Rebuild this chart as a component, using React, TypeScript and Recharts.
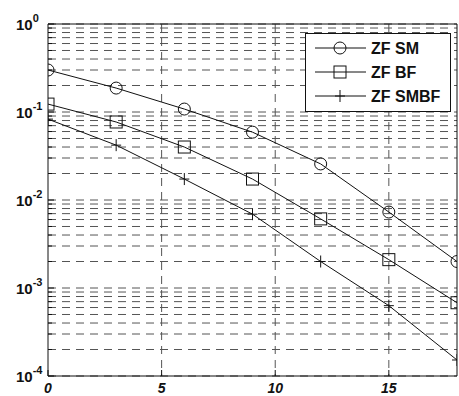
import React from "react";
import {
  CartesianGrid,
  Line,
  LineChart,
  ReferenceLine,
  XAxis,
  YAxis,
} from "recharts";

const snrDb = [0, 3, 6, 9, 12, 15, 18];
const zfSm = [0.3, 0.187, 0.108, 0.059, 0.0257, 0.0073, 0.002];
const zfBf = [0.123, 0.077, 0.04, 0.0173, 0.0061, 0.0021, 0.00068];
const zfSmbf = [0.083, 0.042, 0.0173, 0.0069, 0.002, 0.00063, 0.000152];

const xTicks = [0, 5, 10, 15];
const yDecades = [1e-4, 1e-3, 1e-2, 1e-1, 1];
const yExponents = ["-4", "-3", "-2", "-1", "0"];
const minorSteps = [1, 2, 3, 4, 5, 6, 7, 8, 9];

const seriesNames = ["ZF SM", "ZF BF", "ZF SMBF"];
const markerKinds = ["circle", "square", "plus"];

// grid lines at every 1..9 x decade
const yGrid = yDecades
  .slice(0, -1)
  .flatMap((d) => minorSteps.map((m) => +(d * m).toPrecision(3)))
  .concat([1]);

const data = snrDb.map((x, i) => ({
  x,
  sm: zfSm[i],
  bf: zfBf[i],
  smbf: zfSmbf[i],
}));

const FONT = "'Liberation Sans', Arial, sans-serif";
const INK = "#111";

function Marker({ kind, cx, cy }: { kind: string; cx: number; cy: number }) {
  if (kind === "circle")
    return <circle cx={cx} cy={cy} r={6} fill="none" stroke={INK} strokeWidth={1} />;
  if (kind === "square")
    return (
      <rect x={cx - 6} y={cy - 6} width={12} height={12} fill="none" stroke={INK} strokeWidth={1} />
    );
  return (
    <g stroke={INK} strokeWidth={1}>
      <line x1={cx - 5} x2={cx + 5} y1={cy} y2={cy} />
      <line x1={cx} x2={cx} y1={cy - 6} y2={cy + 6} />
    </g>
  );
}

const dotFor = (kind: string) => (props: any) => (
  <Marker key={`${kind}-${props.index}`} kind={kind} cx={props.cx} cy={props.cy} />
);

// tickSize/tickMargin are 0, so x/y here sit right on the axis line
function YTick(props: any) {
  const { x, y, payload } = props;
  const idx = yDecades.findIndex((d) => Math.abs(d - payload.value) < d * 1e-6);
  const major = idx >= 0;
  return (
    <g>
      <line x1={x} x2={x + (major ? 6 : 4)} y1={y} y2={y} stroke={INK} />
      {major && (
        <text x={16} y={y + 6} fontFamily={FONT} fontWeight="bold" fontSize={15} fill={INK}>
          10
          <tspan dy={-8} fontSize={11}>
            {yExponents[idx]}
          </tspan>
        </text>
      )}
    </g>
  );
}

function XTick(props: any) {
  const { x, y, payload } = props;
  return (
    <g>
      <line x1={x} x2={x} y1={y} y2={y - 6} stroke={INK} />
      <text
        x={x}
        y={y + 17}
        textAnchor="middle"
        fontFamily={FONT}
        fontWeight="bold"
        fontStyle="italic"
        fontSize={14}
        fill={INK}
      >
        {payload.value}
      </text>
    </g>
  );
}

function LegendBox() {
  return (
    <svg width={146} height={79} style={{ display: "block" }}>
      <rect x={0.5} y={0.5} width={145} height={78} fill="#fff" stroke={INK} />
      {seriesNames.map((name, i) => {
        const cy = 15 + i * 24;
        return (
          <g key={name}>
            <line x1={10} x2={61} y1={cy} y2={cy} stroke={INK} />
            <Marker kind={markerKinds[i]} cx={35} cy={cy} />
            <text x={66} y={cy + 6} fontFamily={FONT} fontWeight="bold" fontSize={16} fill={INK}>
              {name}
            </text>
          </g>
        );
      })}
    </svg>
  );
}

export default function App() {
  return (
    <div style={{ position: "absolute", left: 0, top: 0, width: 459, height: 396, background: "#fff" }}>
      <LineChart
        width={459}
        height={396}
        data={data}
        margin={{ top: 24, right: 2, bottom: 0, left: 0 }}
      >
        <CartesianGrid
          stroke="#555"
          strokeDasharray="8 6"
          horizontalValues={yGrid}
          verticalValues={[5, 10, 15]}
        />
        <XAxis
          dataKey="x"
          type="number"
          domain={[0, 18]}
          ticks={xTicks}
          height={20}
          stroke={INK}
          tickLine={false}
          tickSize={0}
          tickMargin={0}
          tick={<XTick />}
          allowDataOverflow
        />
        <YAxis
          scale="log"
          domain={[1e-4, 1]}
          ticks={yGrid}
          width={48}
          stroke={INK}
          tickLine={false}
          tickSize={0}
          tickMargin={0}
          tick={<YTick />}
          interval={0}
          allowDataOverflow
        />
        <ReferenceLine y={1} stroke={INK} />
        <ReferenceLine x={18} stroke={INK} />
        <Line dataKey="sm" name="ZF SM" stroke={INK} strokeWidth={1} dot={dotFor("circle")} isAnimationActive={false} />
        <Line dataKey="bf" name="ZF BF" stroke={INK} strokeWidth={1} dot={dotFor("square")} isAnimationActive={false} />
        <Line dataKey="smbf" name="ZF SMBF" stroke={INK} strokeWidth={1} dot={dotFor("plus")} isAnimationActive={false} />
      </LineChart>
      <div style={{ position: "absolute", left: 305, top: 33 }}>
        <LegendBox />
      </div>
    </div>
  );
}
